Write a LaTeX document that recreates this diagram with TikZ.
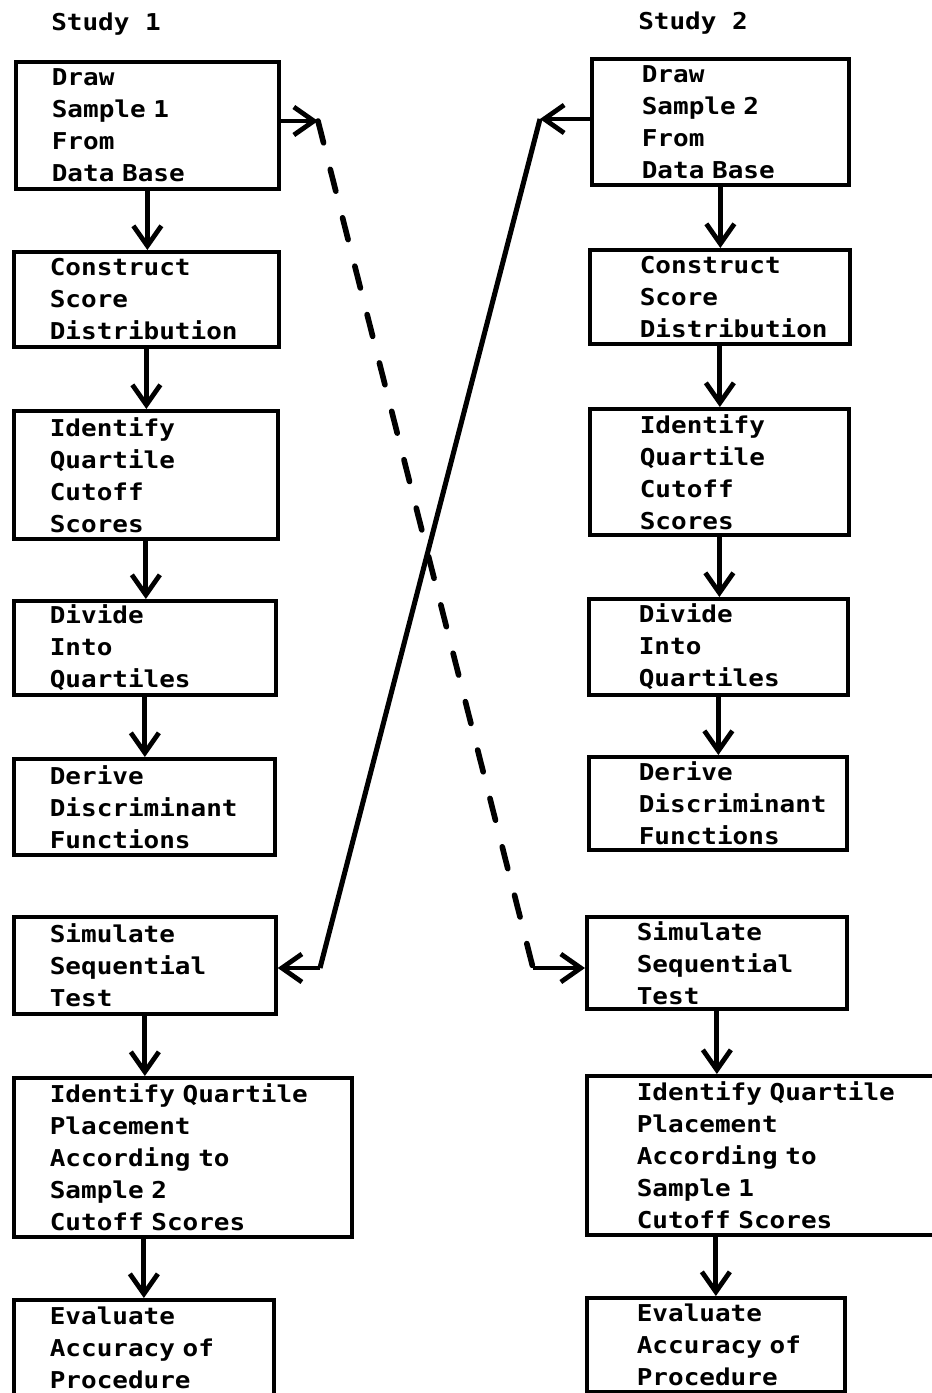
\documentclass[tikz,border=0pt]{standalone}
\usepackage{fontspec}
\newfontfamily\typewr{DejaVu Sans Mono}[FakeStretch=1.12]
\usetikzlibrary{arrows.meta}

\begin{document}
\begin{tikzpicture}[x=0.025cm, y=-0.025cm,
  stage/.style={draw, line width=2.6pt, anchor=north west, inner sep=0pt, align=left,
    font=\typewr\bfseries\fontsize{16.5}{22.8}\selectfont,
    execute at begin node={\hyphenpenalty=10000\relax}},
  heading/.style={anchor=base west, inner sep=0pt, font=\typewr\bfseries\fontsize{16.5}{22.8}\selectfont},
  flow/.style={line width=3.4pt, -{Straight Barb[length=5mm, width=7mm]}},
  cross/.style={line width=3.6pt},
  dashline/.style={line width=4pt, line cap=round, dash pattern=on 16pt off 19.5pt}]
  \useasboundingbox (0,0) rectangle (932,1393);

  % Study 1 column
  \node[heading] (study1) at (51,31) {Study 1};
  \node[stage, minimum width=6.575cm, minimum height=3.175cm, text width=4.775cm] (draw1) at (14,60) {Draw\\Sample~1\\From\\Data~Base};
  \node[stage, minimum width=6.625cm, minimum height=2.375cm, text width=4.825cm] (score1) at (12,250) {Construct\\Score\\Distribution};
  \node[stage, minimum width=6.6cm, minimum height=3.2cm, text width=4.8cm] (cutoff1) at (12,409) {Identify\\Quartile\\Cutoff\\Scores};
  \node[stage, minimum width=6.55cm, minimum height=2.35cm, text width=4.75cm] (divide1) at (12,599) {Divide\\Into\\Quartiles};
  \node[stage, minimum width=6.525cm, minimum height=2.4cm, text width=4.725cm] (derive1) at (12,757) {Derive\\Discriminant\\Functions};
  \node[stage, minimum width=6.55cm, minimum height=2.425cm, text width=4.75cm] (test1) at (12,915) {Simulate\\Sequential\\Test};
  \node[stage, minimum width=8.45cm, minimum height=3.975cm, text width=6.65cm] (place1) at (12,1076) {Identify~Quartile\\Placement\\According~to\\Sample~2\\Cutoff~Scores};
  \node[stage, minimum width=6.5cm, minimum height=2.4cm, text width=4.7cm] (eval1) at (12,1298) {Evaluate\\Accuracy~of\\Procedure};

  % Study 2 column
  \node[heading] (study2) at (638,30) {Study 2};
  \node[stage, minimum width=6.425cm, minimum height=3.15cm, text width=3.925cm] (draw2) at (590,57) {Draw\\Sample~2\\From\\Data~Base};
  \node[stage, minimum width=6.5cm, minimum height=2.35cm, text width=4cm] (score2) at (588,248) {Construct\\Score\\Distribution};
  \node[stage, minimum width=6.475cm, minimum height=3.15cm, text width=3.975cm] (cutoff2) at (588,407) {Identify\\Quartile\\Cutoff\\Scores};
  \node[stage, minimum width=6.475cm, minimum height=2.4cm, text width=3.975cm] (divide2) at (587,597) {Divide\\Into\\Quartiles};
  \node[stage, minimum width=6.45cm, minimum height=2.325cm, text width=3.95cm] (derive2) at (587,755) {Derive\\Discriminant\\Functions};
  \node[stage, minimum width=6.5cm, minimum height=2.3cm, text width=4cm] (test2) at (585,915) {Simulate\\Sequential\\Test};
  \node[stage, minimum width=8.8cm, minimum height=3.975cm, text width=6.3cm] (place2) at (585,1074) {Identify~Quartile\\Placement\\According~to\\Sample~1\\Cutoff~Scores};
  \node[stage, minimum width=6.45cm, minimum height=2.35cm, text width=3.95cm] (eval2) at (585,1296) {Evaluate\\Accuracy~of\\Procedure};

  % steps down each column
  \draw[flow] (draw1.south) -- (draw1.south |- score1.north);
  \draw[flow] (score1.south) -- (score1.south |- cutoff1.north);
  \draw[flow] (cutoff1.south) -- (cutoff1.south |- divide1.north);
  \draw[flow] (divide1.south) -- (divide1.south |- derive1.north);
  \draw[flow] (test1.south) -- (test1.south |- place1.north);
  \draw[flow] (eval1.north |- place1.south) -- (eval1.north);
  \draw[flow] (draw2.south) -- (draw2.south |- score2.north);
  \draw[flow] (score2.south) -- (score2.south |- cutoff2.north);
  \draw[flow] (cutoff2.south) -- (cutoff2.south |- divide2.north);
  \draw[flow] (divide2.south) -- (divide2.south |- derive2.north);
  \draw[flow] (test2.south) -- (test2.south |- place2.north);
  \draw[flow] (eval2.north |- place2.south) -- (eval2.north);

  % samples crossed over to the other study
  \coordinate (turnA) at (318,121);
  \coordinate (turnB) at (533,968);
  \coordinate (turnC) at (540,119);
  \coordinate (turnD) at (320,968);
  \draw[flow] (draw1.east |- turnA) -- (turnA);
  \draw[dashline] (turnA) -- (turnB);
  \draw[flow] (turnB) -- (turnB -| test2.west);
  \draw[flow] (draw2.west |- turnC) -- (turnC);
  \draw[cross] (turnC) -- (turnD);
  \draw[flow] (turnD) -- (turnD -| test1.east);
\end{tikzpicture}
\end{document}
